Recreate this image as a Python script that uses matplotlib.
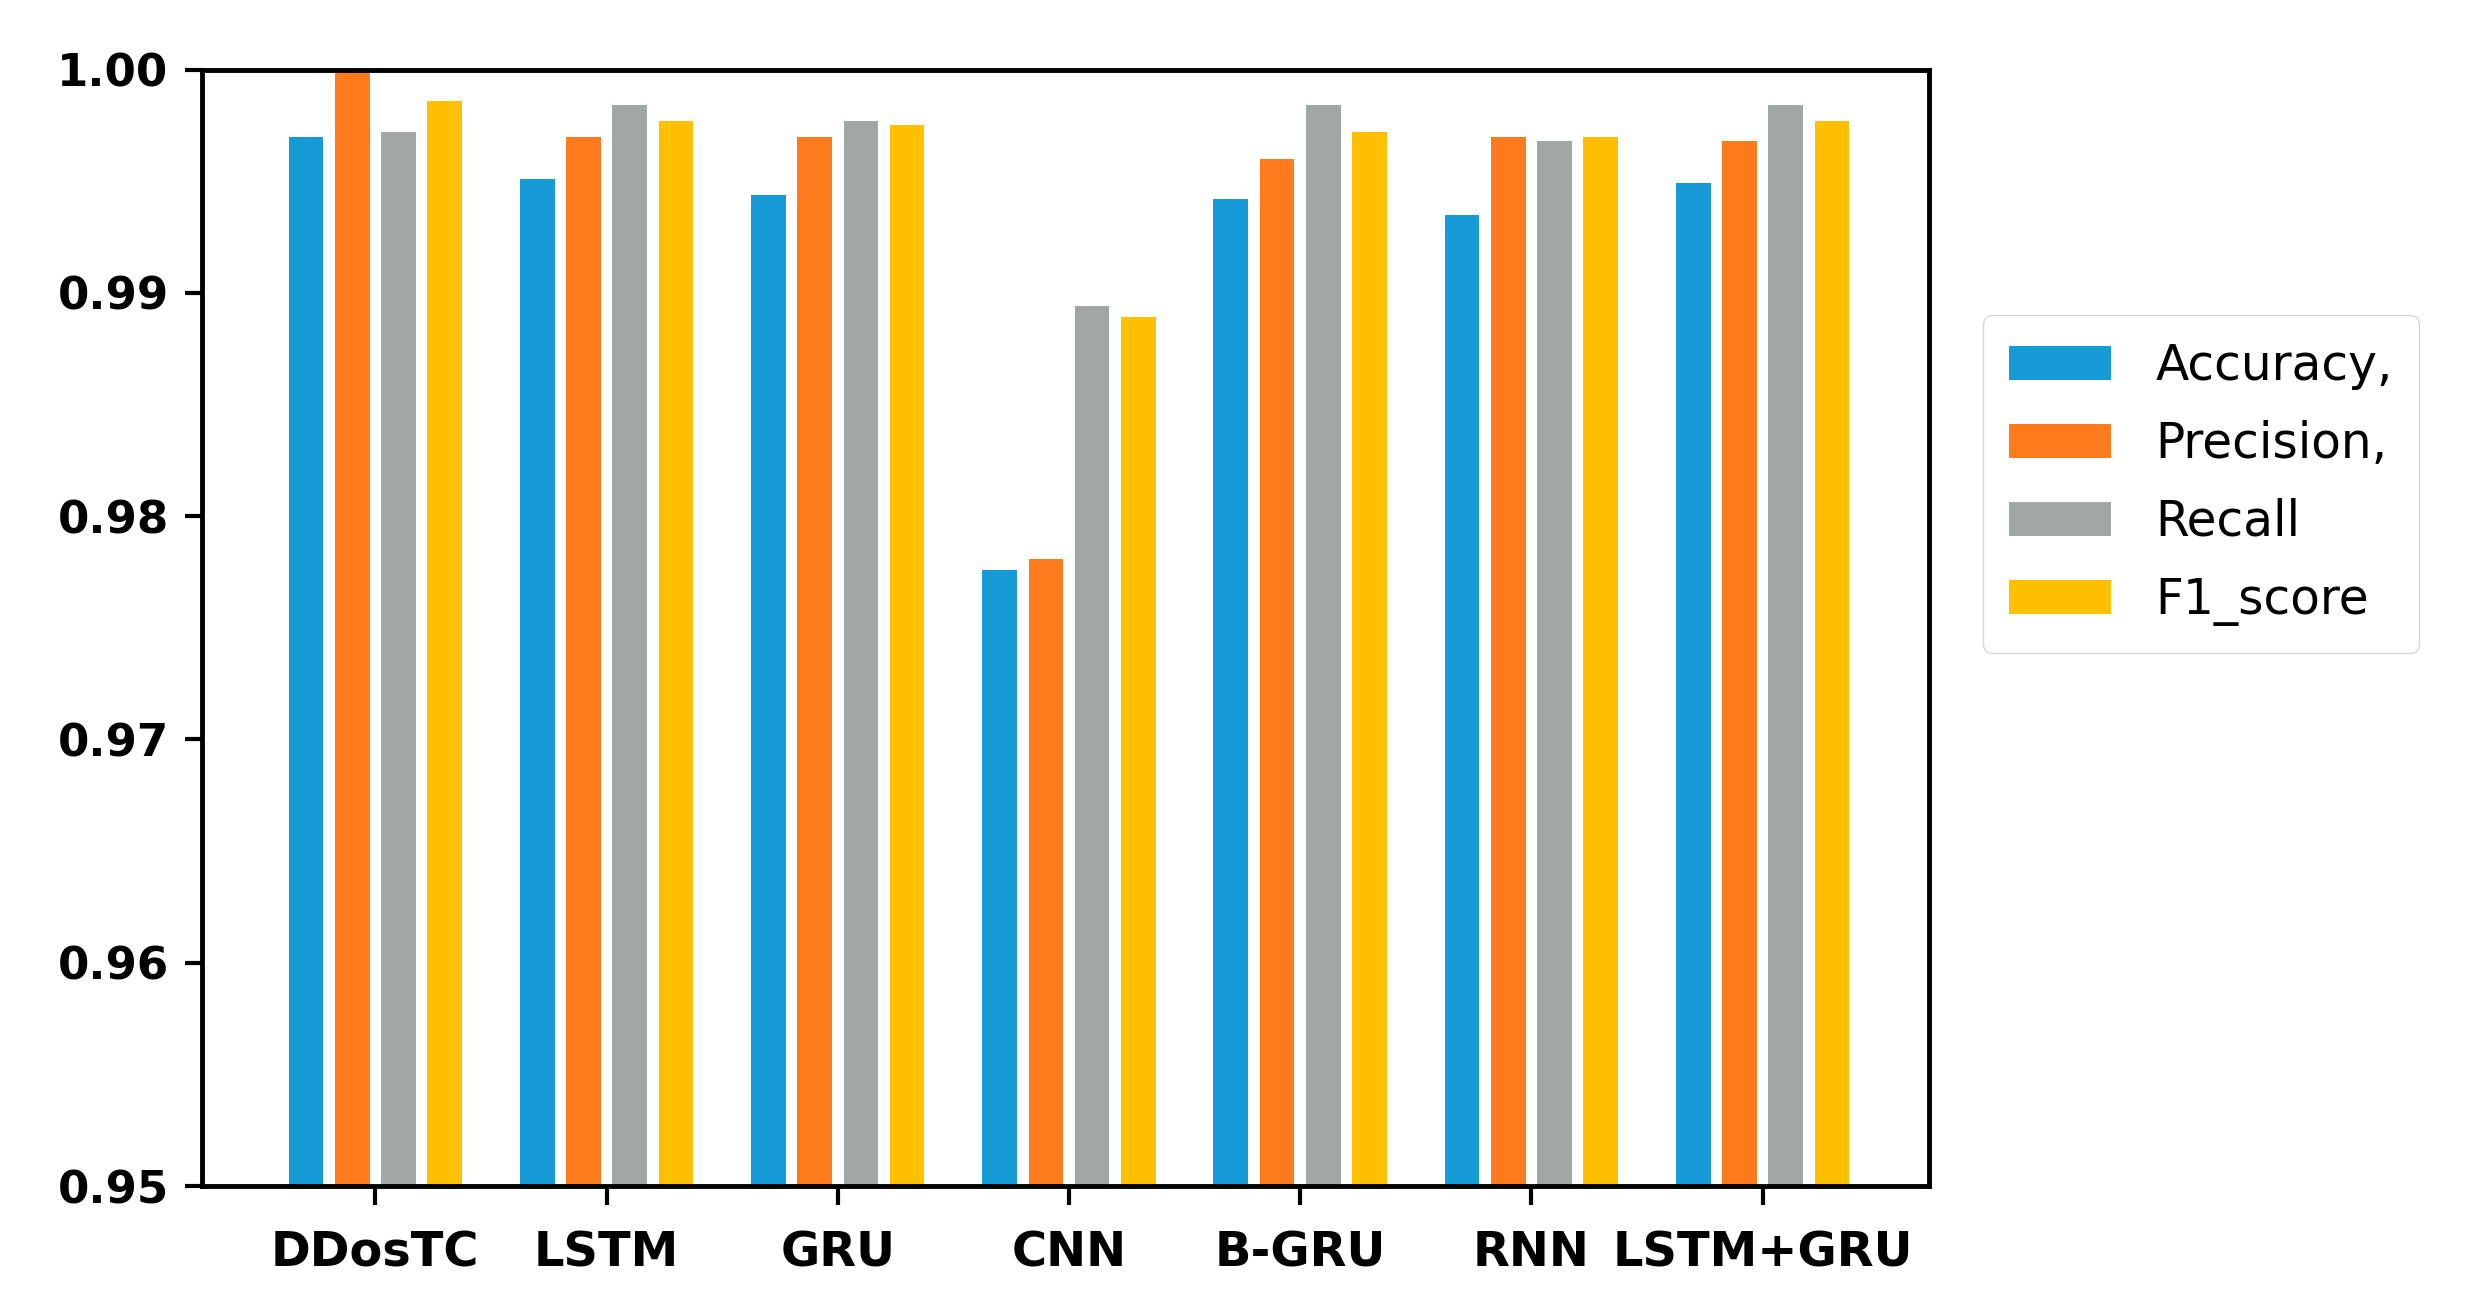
import numpy as np
import matplotlib
matplotlib.use('Agg')
import matplotlib.pyplot as plt

models = ['DDosTC', 'LSTM', 'GRU', 'CNN', 'B-GRU', 'RNN', 'LSTM+GRU']
accuracy = [0.9970, 0.9951, 0.9944, 0.9776, 0.9942, 0.9935, 0.9949]
precision = [1.0000, 0.9970, 0.9970, 0.9781, 0.9960, 0.9970, 0.9968]
recall = [0.9972, 0.9984, 0.9977, 0.9894, 0.9984, 0.9968, 0.9984]
f1_score = [0.9986, 0.9977, 0.9975, 0.9889, 0.9972, 0.9970, 0.9977]

labels = ['Accuracy,', 'Precision,', 'Recall', 'F1_score']
colors = ['#179bd7', '#fd7b1c', '#a1a7a4', '#fec000']

fig = plt.figure(figsize=(24.69, 13.12), dpi=100)
ax = fig.add_axes([0.0818, 0.096, 0.6995, 0.851])

x = np.arange(len(models))
series = [accuracy, precision, recall, f1_score]
for i, vals in enumerate(series):
    ax.bar(x + (i - 1.5) * 0.2, vals, width=0.15, color=colors[i], label=labels[i])

ax.set_ylim(0.95, 1.0)
ax.set_xlim(-0.75, 6.72)
ax.set_yticks(np.arange(0.95, 1.0001, 0.01))
ax.set_yticklabels(['%.2f' % v for v in np.arange(0.95, 1.0001, 0.01)])
ax.set_xticks(x)
ax.set_xticklabels(models)

for lab in ax.get_xticklabels():
    lab.set_fontweight('bold')
    lab.set_fontsize(34.5)
for lab in ax.get_yticklabels():
    lab.set_fontweight('bold')
    lab.set_fontsize(32.5)

ax.tick_params(axis='x', length=14, width=3, pad=17)
ax.tick_params(axis='y', length=12, width=3, pad=12)
for sp in ax.spines.values():
    sp.set_linewidth(3.5)

ax.legend(loc='center left', bbox_to_anchor=(1.031, 0.629), borderaxespad=0,
          fontsize=35, handlelength=2.1, handleheight=0.7, handletextpad=0.9,
          labelspacing=0.62, borderpad=0.55, frameon=True)

fig.savefig('out.png', dpi=100)
